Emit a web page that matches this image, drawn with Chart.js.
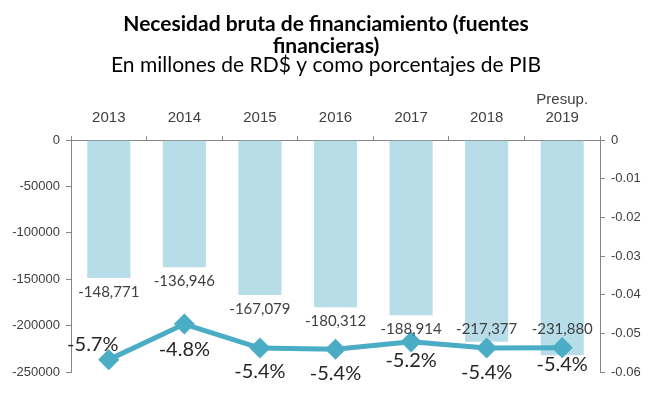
<!DOCTYPE html>
<html>
<head>
<meta charset="utf-8">
<script src="https://cdn.jsdelivr.net/npm/chart.js@4"></script>
<style>
  html, body { margin: 0; padding: 0; background: #fff; }
  #wrap { width: 652px; height: 399px; }
</style>
</head>
<body>
<div id="wrap"><canvas id="chart" width="652" height="399"></canvas></div>
<script>
const categories = ["2013", "2014", "2015", "2016", "2017", "2018", ["Presup.", "2019"]];
const financing = [-148771, -136946, -167079, -180312, -188914, -217377, -231880];
const pctOfGdp = [-0.0568, -0.0476, -0.0538, -0.0541, -0.0522, -0.0538, -0.0537];
const leftTicks = [0, -50000, -100000, -150000, -200000, -250000];
const rightTicks = [0, -0.01, -0.02, -0.03, -0.04, -0.05, -0.06];

// label offsets for the percentage labels (x, y from the point)
const pctLabelOffsets = [[-16, -15], [0, 25], [0, 24], [0, 24], [0, 19], [0, 25], [0, 17]];

const labelsPlugin = {
  id: "valueLabels",
  afterDatasetsDraw(chart) {
    const ctx = chart.ctx;
    const area = chart.chartArea;
    ctx.save();
    ctx.textAlign = "center";
    ctx.textBaseline = "middle";

    const bars = chart.getDatasetMeta(1).data;
    ctx.font = "15px Lato";
    ctx.fillStyle = "#404040";
    bars.forEach((bar, i) => {
      const y = Math.min(bar.y + 14, area.bottom - 43);
      ctx.fillText(financing[i].toLocaleString("en-US"), bar.x, y);
    });

    const points = chart.getDatasetMeta(0).data;
    ctx.font = "20px Lato";
    ctx.fillStyle = "#262626";
    points.forEach((pt, i) => {
      const off = pctLabelOffsets[i];
      ctx.fillText((pctOfGdp[i] * 100).toFixed(1) + "%", pt.x + off[0], pt.y + off[1]);
    });
    ctx.restore();
  }
};

const ctx = document.getElementById("chart");
new Chart(ctx, {
  data: {
    labels: categories,
    datasets: [
      {
        type: "line",
        label: "% del PIB",
        data: pctOfGdp,
        yAxisID: "y1",
        borderColor: "#4BACC6",
        backgroundColor: "#4BACC6",
        borderWidth: 5,
        pointStyle: "rectRot",
        pointRadius: 7,
        pointHoverRadius: 7,
        tension: 0,
        order: 0,
      },
      {
        type: "bar",
        label: "Millones de RD$",
        data: financing,
        yAxisID: "y",
        backgroundColor: "#B7DDE8",
        barPercentage: 0.57,
        categoryPercentage: 1,
        order: 1,
      },
    ],
  },
  options: {
    responsive: false,
    animation: false,
    layout: { padding: { left: 0, right: 0, top: 0, bottom: 27 } },
    plugins: {
      legend: { display: false },
      tooltip: { enabled: false },
      title: {
        display: true,
        text: ["Necesidad bruta de financiamiento (fuentes", "financieras)"],
        color: "#000",
        font: { family: "Lato", size: 21, weight: "bold", lineHeight: 1.05 },
        padding: { top: 13, bottom: 0 },
      },
      subtitle: {
        display: true,
        text: "En millones de RD$ y como porcentajes de PIB",
        color: "#000",
        font: { family: "Lato", size: 21, lineHeight: 1.05 },
        padding: { top: -3, bottom: 0 },
      },
    },
    scales: {
      x: {
        position: "top",
        offset: true,
        afterFit: (axis) => { axis.height = 64; },
        grid: { drawOnChartArea: false, offset: true, tickLength: 4, color: "#868686" },
        border: { color: "#868686" },
        ticks: { color: "#404040", font: { family: "Liberation Sans", size: 15, lineHeight: 1.15 }, padding: 10 },
      },
      y: {
        position: "left",
        min: -250000,
        max: 0,
        afterBuildTicks: (axis) => { axis.ticks = leftTicks.map((v) => ({ value: v })); },
        afterFit: (axis) => { axis.width = 71; },
        grid: { drawOnChartArea: false, tickLength: 5, color: "#868686" },
        border: { color: "#868686" },
        ticks: {
          color: "#404040",
          font: { family: "Liberation Sans", size: 13 },
          padding: 6,
          callback: (v) => String(v),
        },
      },
      y1: {
        position: "right",
        min: -0.06,
        max: 0,
        afterBuildTicks: (axis) => { axis.ticks = rightTicks.map((v) => ({ value: v })); },
        afterFit: (axis) => { axis.width = 52; },
        grid: { drawOnChartArea: false, tickLength: 5, color: "#868686" },
        border: { color: "#868686" },
        ticks: {
          color: "#404040",
          font: { family: "Liberation Sans", size: 13 },
          padding: 6,
          callback: (v) => (v === 0 ? "0" : v.toFixed(2)),
        },
      },
    },
  },
  plugins: [labelsPlugin],
});
</script>
</body>
</html>
